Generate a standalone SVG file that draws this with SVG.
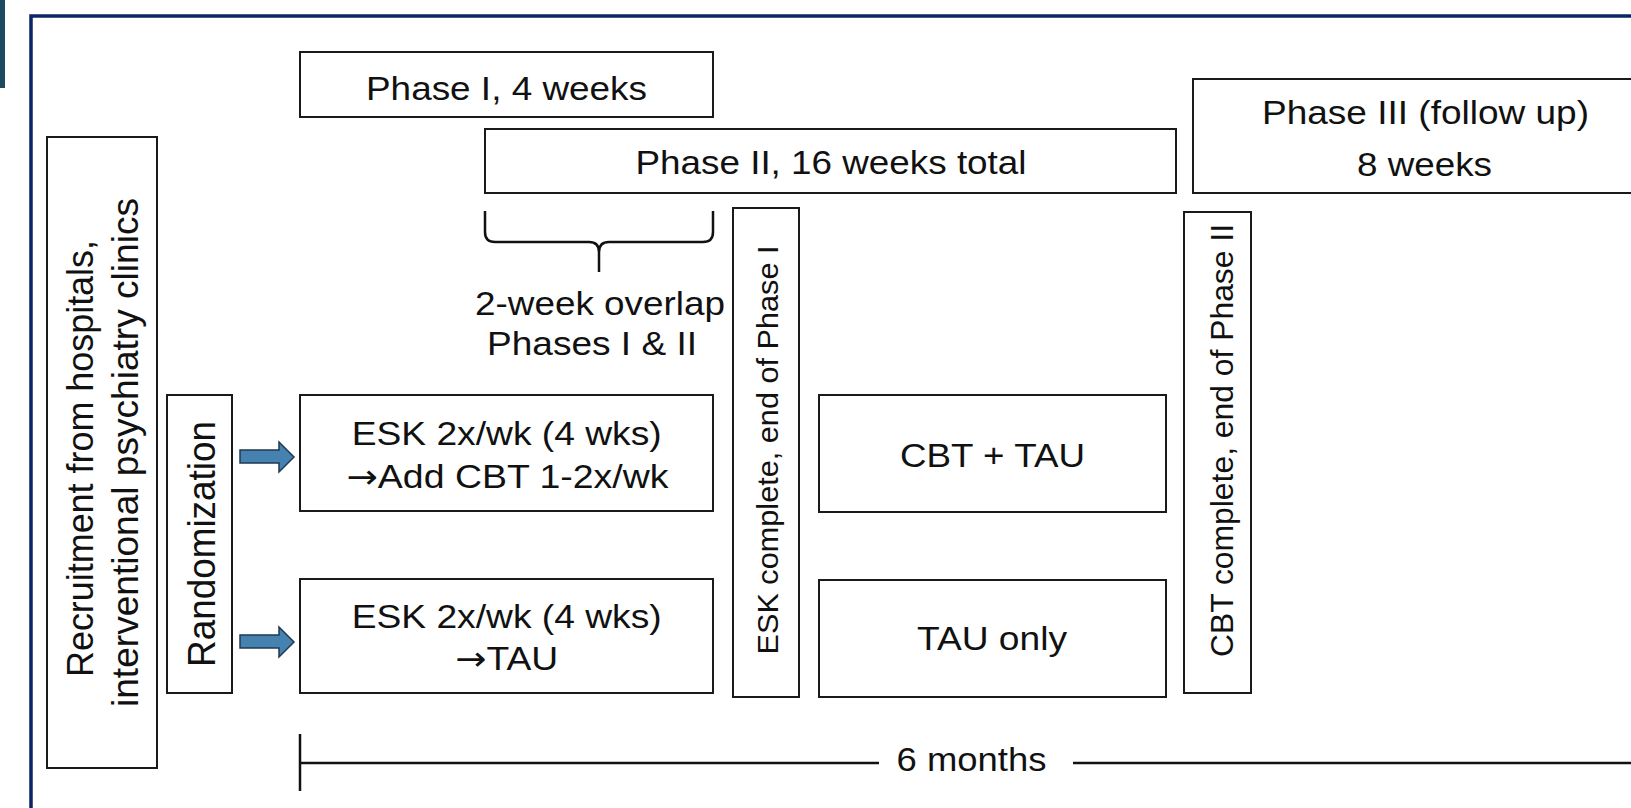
<svg xmlns="http://www.w3.org/2000/svg" width="1631" height="808" viewBox="0 0 1631 808">
<style>
.box{fill:#fff;stroke:#1a1a1a;stroke-width:2}
.t{font-family:"Liberation Sans",Arial,sans-serif;font-size:33px;fill:#111;text-anchor:middle}
.v{font-family:"Liberation Sans",Arial,sans-serif;fill:#111;text-anchor:middle}
.ar{font-family:"DejaVu Sans",sans-serif}
.ln{stroke:#111;stroke-width:2.5;fill:none}
.arr{fill:#4682b0;stroke:#1f3a52;stroke-width:1.5}
</style>
<rect x="0" y="0" width="1631" height="808" fill="#fff"/>
<rect x="0" y="0" width="5" height="88" fill="#1e4a5f"/>
<path d="M31,808 V16 H1631" fill="none" stroke="#0b2566" stroke-width="3.5"/>

<g id="recruitment">
<rect class="box" x="47" y="137" width="110" height="631"/>
<text class="v" font-size="37" transform="translate(93,458.5) rotate(-90)" textLength="437" lengthAdjust="spacingAndGlyphs">Recruitment from hospitals,</text>
<text class="v" font-size="37" transform="translate(138,452.5) rotate(-90)" textLength="509" lengthAdjust="spacingAndGlyphs">interventional psychiatry clinics</text>
</g>

<g id="randomization">
<rect class="box" x="167" y="395" width="65" height="298"/>
<text class="v" font-size="38" transform="translate(215,544) rotate(-90)" textLength="246" lengthAdjust="spacingAndGlyphs">Randomization</text>
</g>

<g id="phase1">
<rect class="box" x="300" y="52" width="413" height="65"/>
<text class="t" x="506.5" y="100" textLength="281" lengthAdjust="spacingAndGlyphs">Phase I, 4 weeks</text>
</g>

<g id="phase2">
<rect class="box" x="485" y="129" width="691" height="64"/>
<text class="t" x="831" y="174" textLength="391" lengthAdjust="spacingAndGlyphs">Phase II, 16 weeks total</text>
</g>

<g id="phase3">
<rect class="box" x="1193" y="79" width="470" height="114"/>
<text class="t" x="1425.5" y="124" textLength="327" lengthAdjust="spacingAndGlyphs">Phase III (follow up)</text>
<text class="t" x="1424.5" y="176" textLength="135" lengthAdjust="spacingAndGlyphs">8 weeks</text>
</g>

<g id="overlap">
<path class="ln" stroke-width="2" d="M485,211 V232 Q485,242 495,242 H589 Q599,242 599,252 V272 M599,252 Q599,242 609,242 H703 Q713,242 713,232 V211"/>
<text class="t" x="600" y="315" textLength="250" lengthAdjust="spacingAndGlyphs">2-week overlap</text>
<text class="t" x="592" y="355" textLength="210" lengthAdjust="spacingAndGlyphs">Phases I &amp; II</text>
</g>

<g id="esk-cbt">
<rect class="box" x="300" y="395" width="413" height="116"/>
<text class="t" x="506.7" y="445" textLength="310" lengthAdjust="spacingAndGlyphs">ESK 2x/wk (4 wks)</text>
<text class="t" x="507.5" y="488" textLength="322" lengthAdjust="spacingAndGlyphs"><tspan class="ar">→</tspan>Add CBT 1-2x/wk</text>
</g>

<g id="esk-tau">
<rect class="box" x="300" y="579" width="413" height="114"/>
<text class="t" x="506.7" y="628" textLength="310" lengthAdjust="spacingAndGlyphs">ESK 2x/wk (4 wks)</text>
<text class="t" x="506.7" y="670" textLength="103" lengthAdjust="spacingAndGlyphs"><tspan class="ar">→</tspan>TAU</text>
</g>

<g id="esk-complete">
<rect class="box" x="733" y="208" width="66" height="489"/>
<text class="v" font-size="30" transform="translate(778,450) rotate(-90)" textLength="409" lengthAdjust="spacingAndGlyphs">ESK complete,  end of Phase I</text>
</g>

<g id="cbt-tau">
<rect class="box" x="819" y="395" width="347" height="117"/>
<text class="t" x="992.5" y="467" textLength="185" lengthAdjust="spacingAndGlyphs">CBT + TAU</text>
</g>

<g id="tau-only">
<rect class="box" x="819" y="580" width="347" height="117"/>
<text class="t" x="992" y="650" textLength="150" lengthAdjust="spacingAndGlyphs">TAU only</text>
</g>

<g id="cbt-complete">
<rect class="box" x="1184" y="212" width="67" height="481"/>
<text class="v" font-size="31" transform="translate(1233,440.5) rotate(-90)" textLength="433" lengthAdjust="spacingAndGlyphs">CBT complete,  end of Phase II</text>
</g>

<g id="timeline">
<text class="t" font-size="37" x="971.5" y="771" textLength="150" lengthAdjust="spacingAndGlyphs">6 months</text>
</g>

<g id="connectors">
<path class="arr" d="M240,450 H279 V442 L294,457 L279,472 V463 H240 Z"/>
<path class="arr" d="M240,635 H279 V627 L294,642 L279,657 V648 H240 Z"/>
<path class="ln" d="M300,734 V791 M300,763 H879 M1073,763 H1631"/>
</g>
</svg>
